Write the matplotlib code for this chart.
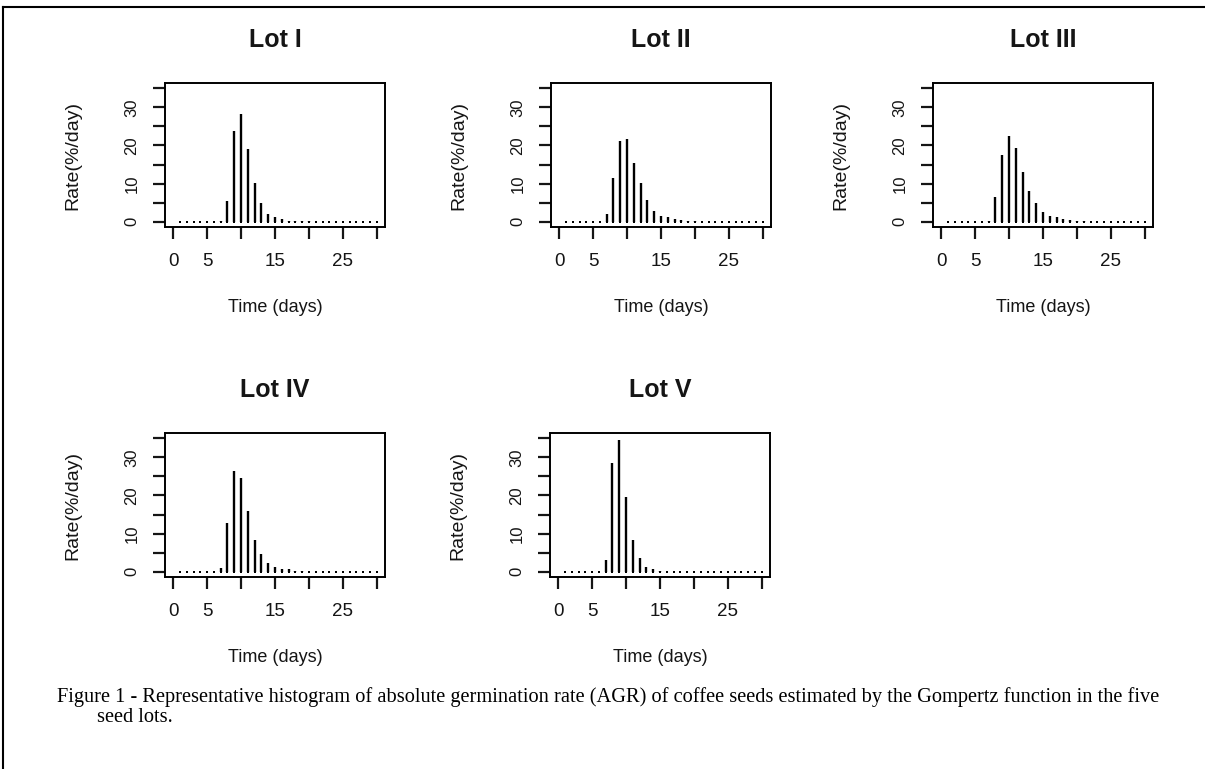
import numpy as np
import matplotlib.pyplot as plt
from matplotlib.lines import Line2D

# days 1..30, rate in %/day
days = np.arange(1, 31)
lot1 = [0, 0, 0, 0, 0, 0, 0.1, 5.3, 23.7, 28.2, 19.0, 10.1, 4.8, 2.0, 1.3,
        0.6, 0.3, 0.15, 0.1, 0.05, 0, 0, 0, 0, 0, 0, 0, 0, 0, 0]
lot2 = [0, 0, 0, 0, 0, 0, 2.0, 11.4, 21.2, 21.7, 15.5, 10.1, 5.7, 2.9, 1.6,
        1.3, 0.6, 0.5, 0.2, 0.1, 0, 0, 0, 0, 0, 0, 0, 0, 0, 0]
lot3 = [0, 0, 0, 0, 0, 0, 0.3, 6.4, 17.5, 22.5, 19.3, 13.0, 8.1, 4.8, 2.6,
        1.6, 1.1, 0.6, 0.4, 0.2, 0.1, 0, 0, 0, 0, 0, 0, 0, 0, 0]
lot4 = [0, 0, 0, 0, 0, 0, 1.0, 12.9, 26.3, 24.6, 15.8, 8.2, 4.6, 2.2, 1.1,
        0.7, 0.7, 0.3, 0.1, 0, 0, 0, 0, 0, 0, 0, 0, 0, 0, 0]
lot5 = [0, 0, 0, 0, 0, 0, 3.1, 28.5, 34.5, 19.6, 8.2, 3.5, 1.1, 0.7, 0.2,
        0, 0, 0, 0, 0, 0, 0, 0, 0, 0, 0, 0, 0, 0, 0]
titles = ['Lot I', 'Lot II', 'Lot III', 'Lot IV', 'Lot V']
series = [lot1, lot2, lot3, lot4, lot5]
yticks = [0, 5, 10, 15, 20, 25, 30, 35]
ylabels = ['0', '', '10', '', '20', '', '30', '']
xticks = [0, 5, 10, 15, 20, 25, 30]
xlabels = ['0', '5', '', '15', '', '25', '']

caption1 = ('Figure 1 - Representative histogram of absolute germination rate (AGR) '
            'of coffee seeds estimated by the Gompertz function in the five')
caption2 = 'seed lots.'

W, H = 1205, 769
plt.rcParams['font.family'] = ['Liberation Sans', 'DejaVu Sans']
fig = plt.figure(figsize=(W / 100, H / 100), dpi=100)

# axes boxes in pixels: left, top
boxes = [(165, 83), (551, 83), (933, 83), (165, 433), (550, 433)]
bw, bh = 220, 144
tc = '#151515'

for (left, top), title, vals in zip(boxes, titles, series):
    ax = fig.add_axes([left / W, 1 - (top + bh) / H, bw / W, bh / H])
    ax.vlines(days, 0, vals, color='black', lw=1.7)
    ax.plot(days, np.zeros(len(days)), 's', color='black', ms=1.8, mew=0)
    ax.set_xlim(-1.2, 31.2)
    ax.set_ylim(-1.4, 36.4)
    ax.set_xticks(xticks)
    ax.set_xticklabels(xlabels)
    ax.set_yticks(yticks)
    ax.set_yticklabels(ylabels, rotation=90, va='center')
    ax.tick_params(direction='out', length=8.5, width=1.6, colors=tc)
    ax.tick_params(axis='x', pad=10, labelsize=13.5)
    ax.tick_params(axis='y', pad=10, labelsize=12)
    for s in ax.spines.values():
        s.set_linewidth(1.4)
    ax.text(0.5, 1 + 43 / bh, title, transform=ax.transAxes, ha='center',
            va='center', fontsize=18, fontweight='bold', color=tc)
    ax.text(0.5, -80 / bh, 'Time (days)', transform=ax.transAxes,
            ha='center', va='center', fontsize=13, color=tc)
    ax.text(-92 / bw, 0.5, 'Rate(%/day)', transform=ax.transAxes, rotation=90,
            ha='center', va='center', fontsize=14, color=tc)

fig.text(57 / W, 1 - 697 / H, caption1, fontsize=14.7, va='center',
         family='Liberation Serif')
fig.text(97 / W, 1 - 718 / H, caption2, fontsize=14.7, va='center',
         family='Liberation Serif')

# frame lines (top and left)
fig.add_artist(Line2D([3 / W, 1], [1 - 7 / H, 1 - 7 / H], color='black', lw=1.5))
fig.add_artist(Line2D([3 / W, 3 / W], [0, 1 - 7 / H], color='black', lw=1.5))

fig.savefig('out.png', dpi=100)
